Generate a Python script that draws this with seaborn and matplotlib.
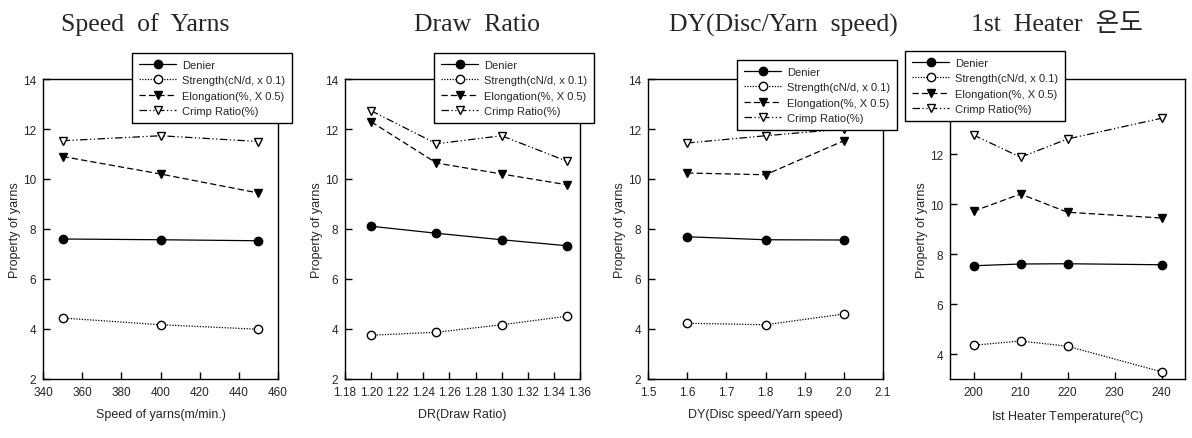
import matplotlib
matplotlib.use("Agg")
import matplotlib.pyplot as plt
import seaborn as sns
import numpy as np
from matplotlib.ticker import FormatStrFormatter

# ---------------- data ----------------
titles = ["Speed  of  Yarns", "Draw  Ratio", "DY(Disc/Yarn  speed)", "1st  Heater  온도"]
xlabels = ["Speed of yarns(m/min.)", "DR(Draw Ratio)", "DY(Disc speed/Yarn speed)",
           "Ist Heater Temperature($^{\\mathrm{o}}$C)"]
series_names = ["Denier", "Strength(cN/d, x 0.1)", "Elongation(%, X 0.5)", "Crimp Ratio(%)"]

speed_x = [350, 400, 450]
speed_denier = [7.60, 7.57, 7.53]
speed_strength = [4.44, 4.17, 3.99]
speed_elong = [10.90, 10.20, 9.44]
speed_crimp = [11.53, 11.73, 11.50]

dr_x = [1.20, 1.25, 1.30, 1.35]
dr_denier = [8.11, 7.83, 7.57, 7.33]
dr_strength = [3.75, 3.87, 4.17, 4.51]
dr_elong = [12.29, 10.64, 10.20, 9.77]
dr_crimp = [12.73, 11.41, 11.73, 10.71]

dy_x = [1.6, 1.8, 2.0]
dy_denier = [7.69, 7.57, 7.56]
dy_strength = [4.23, 4.17, 4.60]
dy_elong = [10.24, 10.17, 11.53]
dy_crimp = [11.44, 11.73, 12.00]

heat_x = [200, 210, 220, 240]
heat_denier = [7.53, 7.60, 7.61, 7.57]
heat_strength = [4.35, 4.52, 4.31, 3.29]
heat_elong = [9.71, 10.40, 9.67, 9.44]
heat_crimp = [12.76, 11.87, 12.60, 13.43]

panels = [
    (speed_x, [speed_denier, speed_strength, speed_elong, speed_crimp]),
    (dr_x, [dr_denier, dr_strength, dr_elong, dr_crimp]),
    (dy_x, [dy_denier, dy_strength, dy_elong, dy_crimp]),
    (heat_x, [heat_denier, heat_strength, heat_elong, heat_crimp]),
]

# ---------------- style ----------------
sns.set_style("ticks")
plt.rcParams["font.family"] = ["Liberation Sans", "DejaVu Sans"]
plt.rcParams["mathtext.fontset"] = "custom"
plt.rcParams["mathtext.rm"] = "Liberation Sans"

styles = [
    dict(marker="o", linestyle="-", markerfacecolor="black"),
    dict(marker="o", linestyle=(0, (1, 1.2)), markerfacecolor="white"),
    dict(marker="v", linestyle=(0, (5, 2.5)), markerfacecolor="black"),
    dict(marker="v", linestyle=(0, (6, 2, 1, 2, 1, 2)), markerfacecolor="white"),
]

W, H = 1192, 439
fig = plt.figure(figsize=(W / 100, H / 100), dpi=100)

axes_px = [43, 345, 648, 950]
axes_w = 235
ax_bottom, ax_top = 380, 80
xlims = [(340, 460), (1.18, 1.36), (1.5, 2.1), (195, 245)]
xticks = [np.arange(340, 461, 20), np.arange(1.18, 1.361, 0.02), np.arange(1.5, 2.11, 0.1),
          np.arange(200, 241, 10)]
xfmt = ["%d", "%.2f", "%.1f", "%d"]
ylims = [(2, 14), (2, 14), (2, 14), (3, 15)]
yticks = [np.arange(2, 15, 2)] * 3 + [np.arange(4, 15, 2)]
legend_pos = [(132, 54), (434, 54), (737, 61), (905, 52)]
title_cx = [145, 477, 783, 1057]

for i, (xs, ys) in enumerate(panels):
    ax = fig.add_axes([axes_px[i] / W, 1 - ax_bottom / H, axes_w / W, (ax_bottom - ax_top) / H])
    for name, yv, st in zip(series_names, ys, styles):
        sns.lineplot(x=xs, y=yv, ax=ax, color="black", linewidth=0.9,
                     markersize=6, markeredgecolor="black", markeredgewidth=1.0,
                     label=name, **st)
    ax.set_xlim(*xlims[i])
    ax.set_ylim(*ylims[i])
    ax.set_xticks(xticks[i])
    ax.set_yticks(yticks[i])
    ax.xaxis.set_major_formatter(FormatStrFormatter(xfmt[i]))
    ax.tick_params(direction="in", length=5, width=1, labelsize=8.5, pad=5, color="black")
    for sp in ax.spines.values():
        sp.set_visible(True)
        sp.set_linewidth(1.0)
        sp.set_color("black")
    ax.set_xlabel(xlabels[i], fontsize=9, labelpad=7)
    ax.set_ylabel("Property of yarns", fontsize=9, labelpad=1)
    lx, ly = legend_pos[i]
    leg = ax.legend(loc="upper left", bbox_to_anchor=(lx / W, 1 - ly / H),
                    bbox_transform=fig.transFigure, borderaxespad=0,
                    fontsize=8, frameon=True, fancybox=False, framealpha=1,
                    edgecolor="black", handlelength=3.4, labelspacing=0.5,
                    borderpad=0.6, handletextpad=0.5)
    leg.get_frame().set_linewidth(1.0)
    fig.text(title_cx[i] / W, 1 - 25 / H, titles[i], ha="center", va="center",
             fontsize=18.5, family=["Liberation Serif", "Noto Sans CJK KR"])

fig.savefig("out.png", dpi=100)
